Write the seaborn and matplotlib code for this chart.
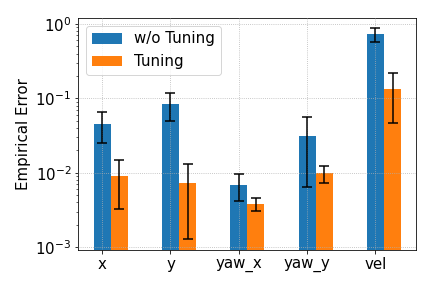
import matplotlib
matplotlib.use("Agg")
import matplotlib.pyplot as plt
import numpy as np
import pandas as pd
import seaborn as sns

categories = ["x", "y", "yaw_x", "yaw_y", "vel"]
series = ["w/o Tuning", "Tuning"]
wo_tuning_mean = [0.045, 0.084, 0.0069, 0.031, 0.73]
wo_tuning_err = [0.020, 0.034, 0.0027, 0.0246, 0.15]
tuning_mean = [0.0091, 0.0073, 0.0038, 0.0099, 0.133]
tuning_err = [0.0058, 0.006, 0.00075, 0.0026, 0.087]
colors = ["#1f77b4", "#ff7f0e"]

plt.rcParams["font.size"] = 15

df = pd.DataFrame({
    "category": categories * 2,
    "method": [series[0]] * len(categories) + [series[1]] * len(categories),
    "error": wo_tuning_mean + tuning_mean,
})

fig, ax = plt.subplots(figsize=(6, 4), dpi=72)
fig.subplots_adjust(left=0.181, right=0.964, top=0.9375, bottom=0.132)

sns.barplot(data=df, x="category", y="error", hue="method", palette=colors,
            saturation=1, errorbar=None, width=0.5, ax=ax)
ax.set_yscale("log")

errs = [wo_tuning_err, tuning_err]
means = [wo_tuning_mean, tuning_mean]
for container, m, e in zip(ax.containers, means, errs):
    xs = [b.get_x() + b.get_width() / 2 for b in container]
    ax.errorbar(xs, m, yerr=e, fmt="none", ecolor="black", elinewidth=1.5,
                capsize=5, capthick=1.5, zorder=3)

# ticks sit under the first bar of each group
blue_centers = [b.get_x() + b.get_width() / 2 for b in ax.containers[0]]
ax.set_xticks(blue_centers)
ax.set_xticklabels(categories)
ax.set_xlim(-0.475, 4.475)
ax.set_ylim(0.00092, 1.2)

ax.set_xlabel("")
ax.set_ylabel("Empirical Error")
ax.grid(True, which="major", linestyle=":", color="#b0b0b0", linewidth=0.8)
ax.set_axisbelow(False)
for b in ax.patches:
    b.set_zorder(1)
ax.legend(loc="upper left", title=None)

plt.savefig("out.png", dpi=72)
plt.close()
